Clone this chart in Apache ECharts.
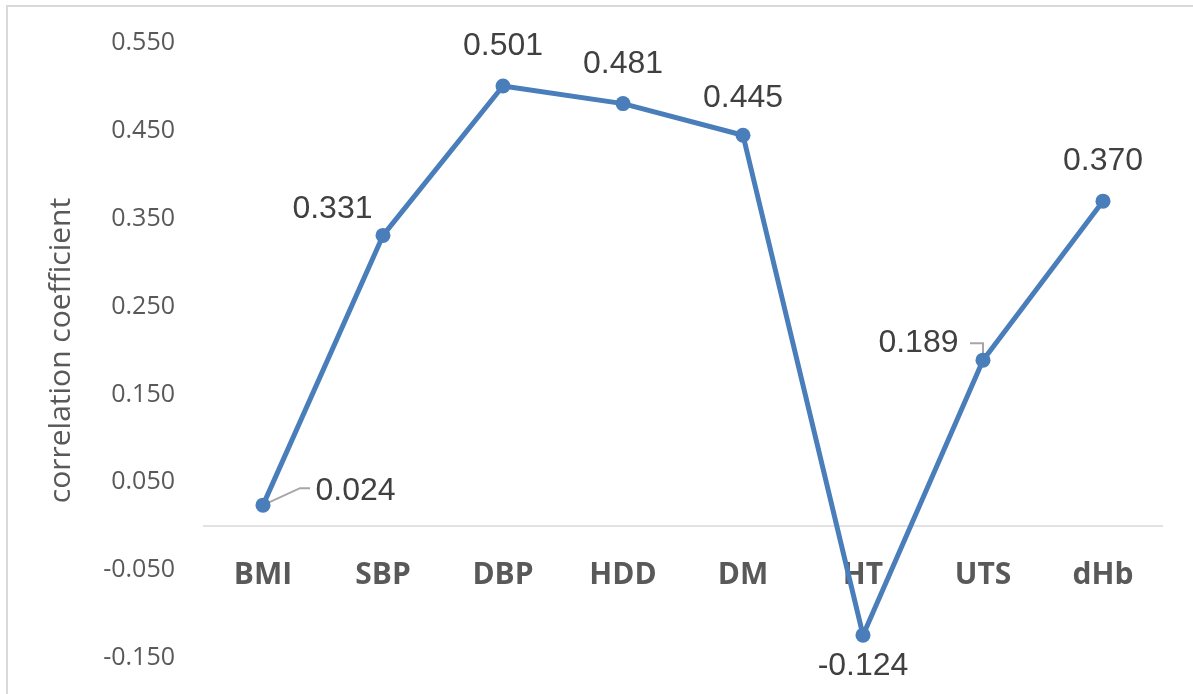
<!DOCTYPE html>
<html>
<head>
<meta charset="utf-8">
<script src="https://cdn.jsdelivr.net/npm/echarts@6/dist/echarts.min.js"></script>
<style>
  html, body { margin: 0; padding: 0; background: #ffffff; }
  #chart { width: 1193px; height: 694px; }
</style>
</head>
<body>
<div id="chart"></div>
<script>
// Correlation coefficient of each factor
const categories = ['BMI', 'SBP', 'DBP', 'HDD', 'DM', 'HT', 'UTS', 'dHb'];
const coefficients = [0.024, 0.331, 0.501, 0.481, 0.445, -0.124, 0.189, 0.370];
const yTickValues = [-0.15, -0.05, 0.05, 0.15, 0.25, 0.35, 0.45, 0.55];

// Per-point label placement; "leader" is an elbow guide drawn relative to the point
const labelPlacement = [
  { position: 'right', offset: [40, -14], leader: [[0, 0], [37, -17], [47, -17]] },
  { position: 'left', offset: [2, -26] },
  { position: 'top', distance: 16 },
  { position: 'top', distance: 16 },
  { position: 'top', distance: 14 },
  { position: 'bottom', distance: 8 },
  { position: 'left', offset: [-12, -17], leader: [[-13, -17], [0, -17], [0, -6]] },
  { position: 'top', distance: 16 }
];

const lineColor = '#4a7ebb';
const axisTextColor = '#595959';

const seriesData = coefficients.map((v, i) => {
  const p = labelPlacement[i];
  const item = { value: v, label: { position: p.position } };
  if (p.offset) item.label.offset = p.offset;
  if (p.distance != null) item.label.distance = p.distance;
  return item;
});

const chart = echarts.init(document.getElementById('chart'), null, { renderer: 'canvas' });

const frame = {
  type: 'rect',
  shape: { x: 7, y: 6, width: 1220, height: 720 },
  style: { fill: 'none', stroke: '#d9d9d9', lineWidth: 2 },
  silent: true
};

chart.setOption({
  backgroundColor: '#ffffff',
  animation: false,
  graphic: [frame],
  grid: { left: 203, right: 30, top: 43, bottom: 36, containLabel: false, outerBoundsMode: 'none' },
  xAxis: {
    type: 'category',
    data: categories,
    boundaryGap: true,
    axisLine: { show: false, onZero: false },
    axisTick: { show: false },
    axisLabel: {
      margin: -98,
      color: axisTextColor,
      fontFamily: 'Open Sans',
      fontWeight: 'bold',
      fontSize: 30
    },
    splitLine: { show: false }
  },
  yAxis: {
    type: 'value',
    min: -0.15,
    max: 0.55,
    name: 'correlation coefficient',
    nameLocation: 'middle',
    nameGap: 127,
    nameRotate: 90,
    nameTextStyle: { color: axisTextColor, fontFamily: 'Open Sans', fontSize: 30 },
    axisLine: { show: false },
    axisTick: { show: false, customValues: yTickValues },
    splitLine: { show: false },
    axisLabel: {
      customValues: yTickValues,
      margin: 28,
      color: axisTextColor,
      fontFamily: 'Open Sans',
      fontSize: 25,
      formatter: v => v.toFixed(3)
    }
  },
  series: [{
    type: 'line',
    data: seriesData,
    symbol: 'circle',
    symbolSize: 15,
    z: 3,
    itemStyle: { color: lineColor },
    lineStyle: { color: lineColor, width: 5 },
    label: {
      show: true,
      color: '#404040',
      fontFamily: 'Liberation Sans',
      fontSize: 32,
      formatter: p => p.value.toFixed(3)
    },
    // horizontal zero line of the category axis
    markLine: {
      silent: true,
      symbol: 'none',
      z: 1,
      label: { show: false },
      lineStyle: { color: '#d9d9d9', width: 1.5, type: 'solid' },
      data: [{ yAxis: 0 }]
    }
  }]
});

// Elbow guide lines from points to their shifted labels
const leaders = [];
labelPlacement.forEach((p, i) => {
  if (!p.leader) return;
  const pt = chart.convertToPixel({ seriesIndex: 0 }, [i, coefficients[i]]);
  leaders.push({
    type: 'polyline',
    shape: { points: p.leader.map(d => [pt[0] + d[0], pt[1] + d[1]]) },
    style: { fill: 'none', stroke: '#a6a6a6', lineWidth: 2 },
    z: 2,
    silent: true
  });
});
chart.setOption({ graphic: [frame].concat(leaders) }, { replaceMerge: ['graphic'] });
</script>
</body>
</html>
